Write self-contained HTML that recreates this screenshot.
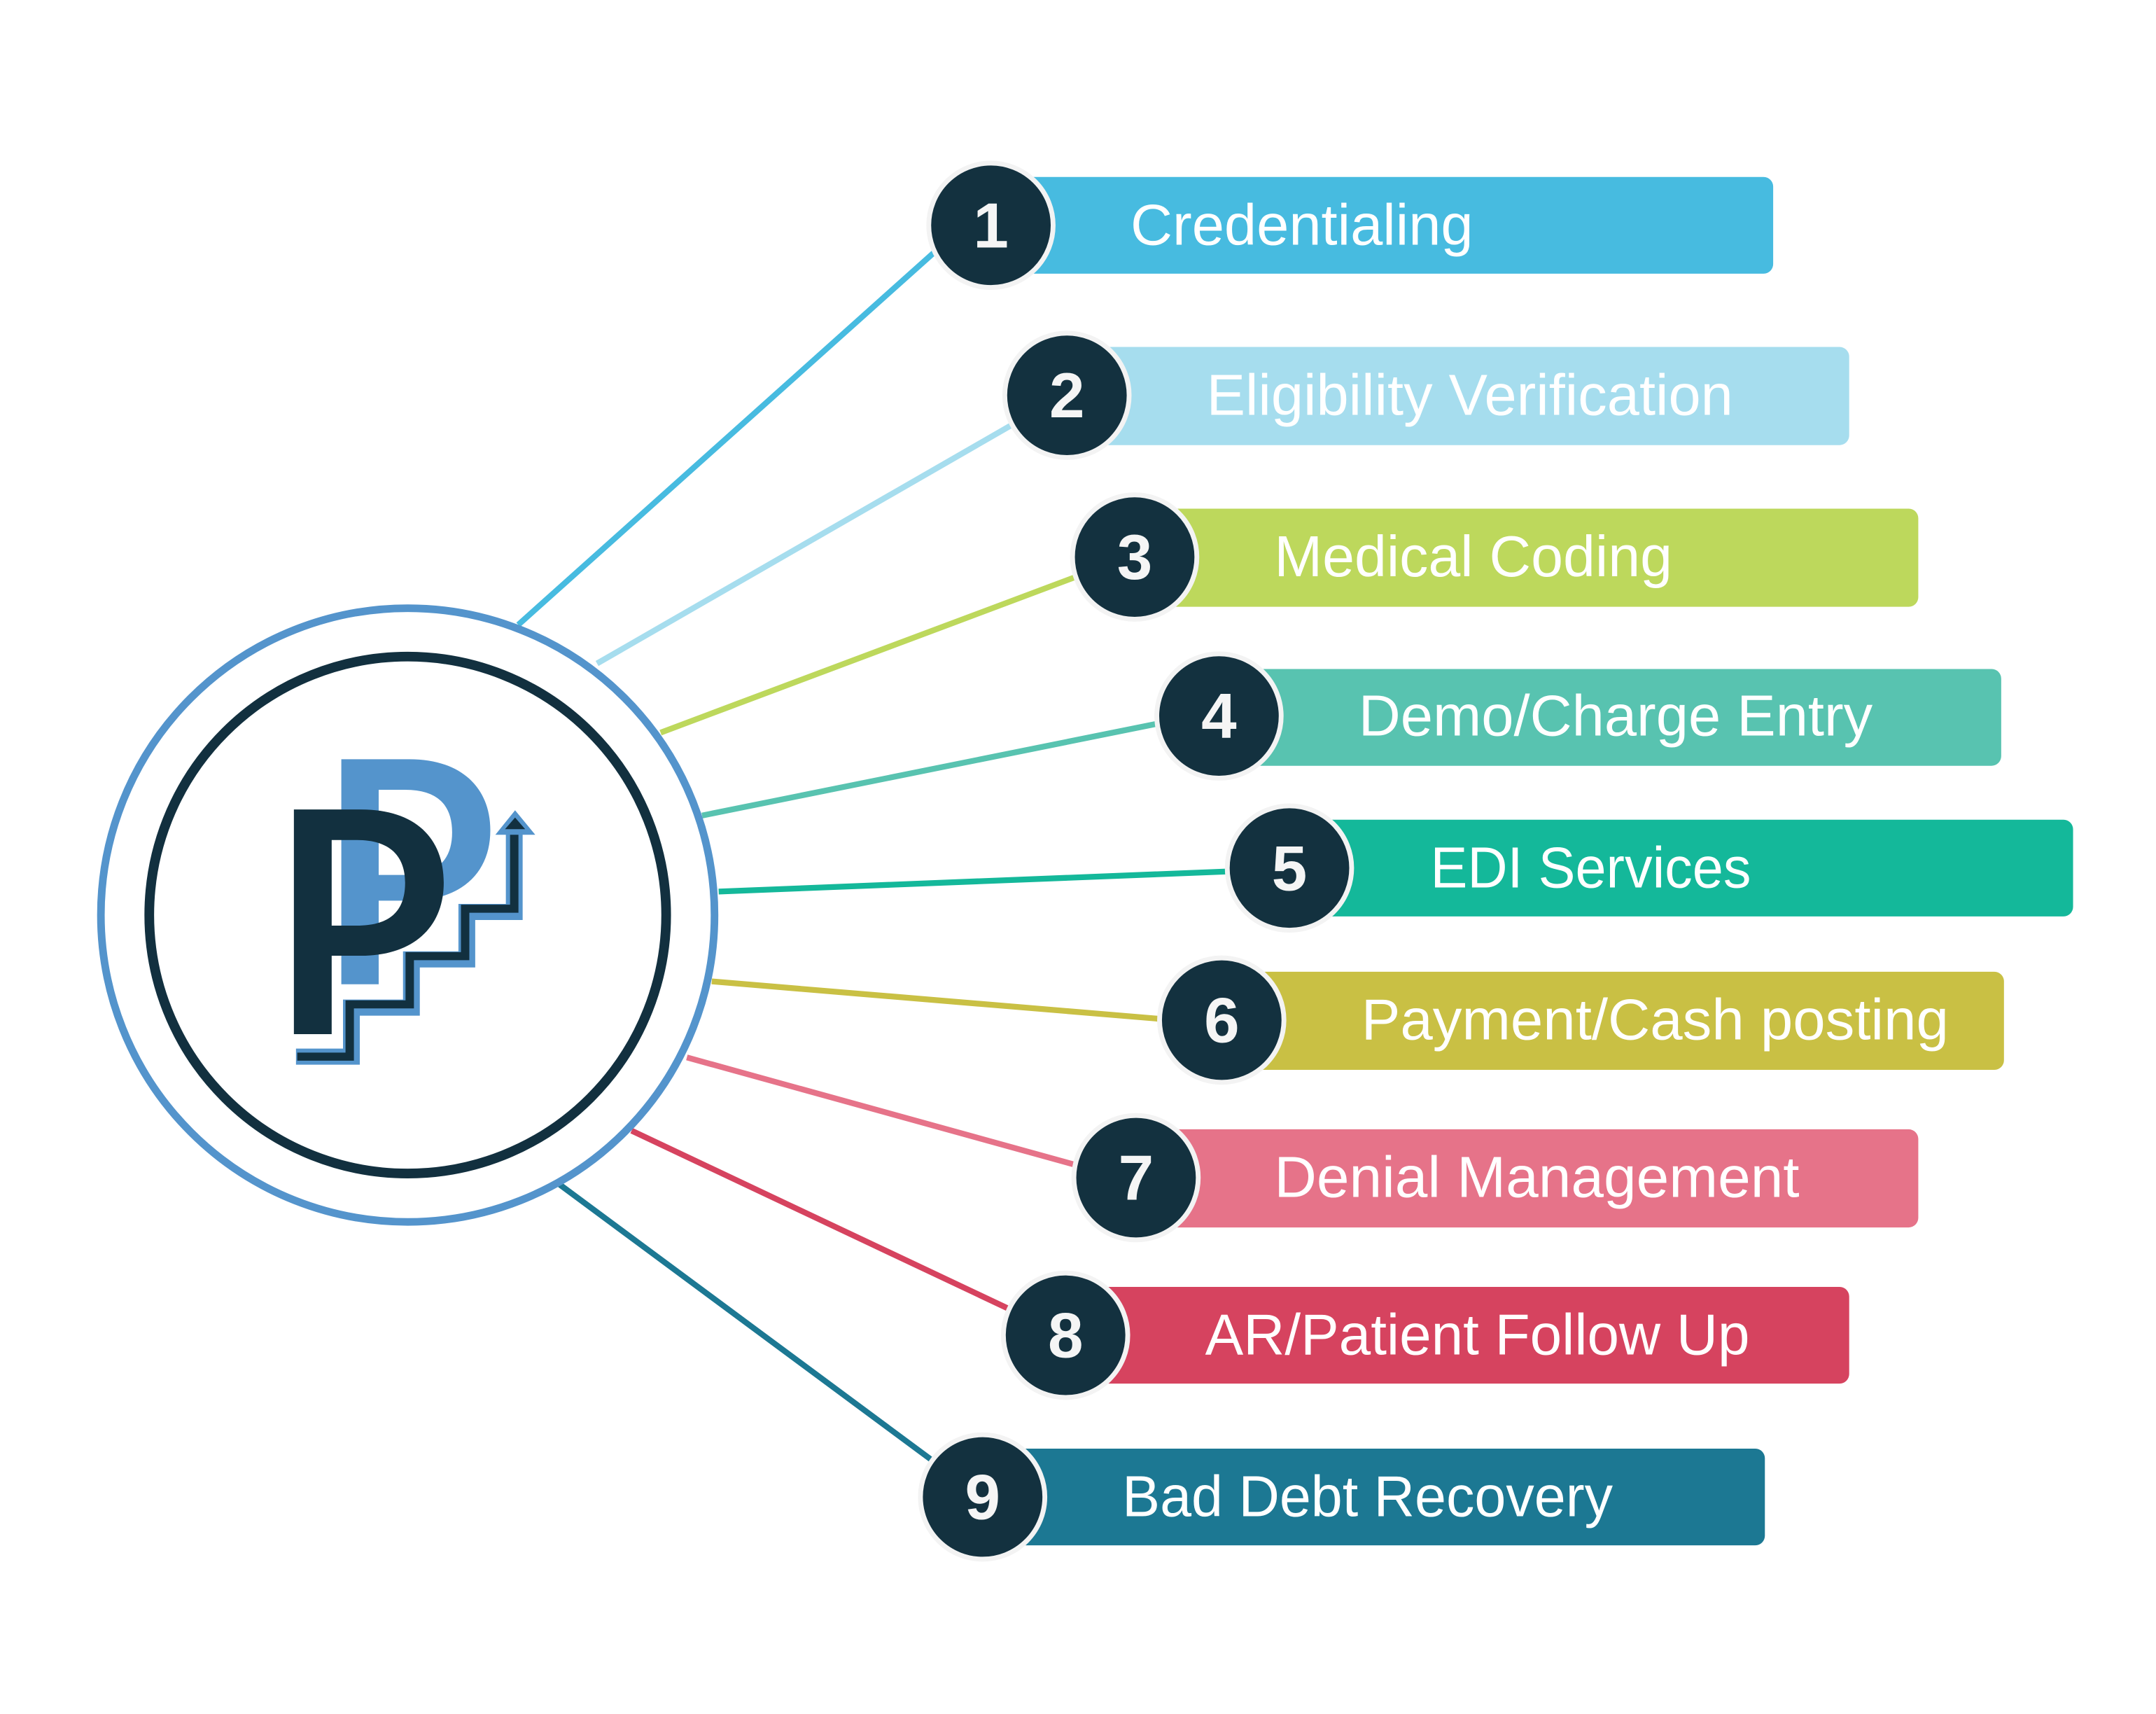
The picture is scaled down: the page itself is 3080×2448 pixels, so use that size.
<!DOCTYPE html>
<html><head><meta charset="utf-8"><style>
html,body{margin:0;padding:0;background:#fff;}
svg{display:block;}
text{font-family:"Liberation Sans",sans-serif;}
</style></head><body>
<svg width="3080" height="2448" viewBox="0 0 1560 1240" preserveAspectRatio="none" xmlns="http://www.w3.org/2000/svg">
<rect width="1560" height="1240" fill="#fff"/>
<g stroke-width="4.2" fill="none">
<line x1="375" y1="452" x2="690" y2="170" stroke="#47bbe0"/>
<line x1="432" y1="480" x2="745" y2="300" stroke="#a6ddee"/>
<line x1="478" y1="530" x2="790" y2="413" stroke="#bdd85c"/>
<line x1="508" y1="590" x2="850" y2="521" stroke="#58c3b0"/>
<line x1="520" y1="645" x2="900" y2="630" stroke="#14b89a"/>
<line x1="515" y1="710" x2="850" y2="738" stroke="#c9c044"/>
<line x1="497" y1="765" x2="790" y2="846" stroke="#e67389"/>
<line x1="457" y1="818" x2="745" y2="954" stroke="#d6435f"/>
<line x1="405" y1="857" x2="690" y2="1068" stroke="#1c7893"/>
</g>
<circle cx="295" cy="662" r="222" fill="#fff" stroke="#5494cc" stroke-width="5.5"/>
<circle cx="295" cy="662" r="187" fill="#fff" stroke="#12303f" stroke-width="7"/>
<g transform="translate(60.8,430.6) scale(0.3037,0.2908)">
<path fill="#5494cc" fill-rule="evenodd" d="M613 408 H775 C900 408 968 480 968 585 C968 690 900 760 775 760 H702 V968 H613 Z M702 484 H765 C840 484 877 520 877 590 C877 660 840 696 765 696 H702 Z"/>
<path fill="#12303f" fill-rule="evenodd" d="M500 533 H660 C790 533 857 605 857 715 C857 830 780 897 660 897 H590 V1092 H500 Z M590 609 H650 C730 609 765 650 765 715 C765 785 730 822 650 822 H590 Z"/>
<polyline points="505,1148 637,1148 637,1026 780,1026 780,906 912,906 912,788 1025,788 1025,575" fill="none" stroke="#5494cc" stroke-width="40" stroke-linejoin="miter"/>
<polyline points="508,1148 633,1148 633,1018 776,1018 776,898 908,898 908,780 1025,780 1025,575" fill="none" stroke="#12303f" stroke-width="20" stroke-linejoin="miter"/>
<polygon points="1027,535 980,596 1075,596" fill="#5494cc"/>
<polygon points="1027,553 1003,582 1051,582" fill="#12303f"/>
</g>
<g>
<rect x="735" y="128" width="548" height="70" rx="7" fill="#47bbe0"/>
<rect x="790" y="251" width="548" height="71" rx="7" fill="#a6ddee"/>
<rect x="840" y="368" width="548" height="71" rx="7" fill="#bdd85c"/>
<rect x="900" y="484" width="548" height="70" rx="7" fill="#58c3b0"/>
<rect x="950" y="593" width="550" height="70" rx="7" fill="#14b89a"/>
<rect x="900" y="703" width="550" height="71" rx="7" fill="#c9c044"/>
<rect x="840" y="817" width="548" height="71" rx="7" fill="#e67389"/>
<rect x="790" y="931" width="548" height="70" rx="7" fill="#d6435f"/>
<rect x="730" y="1048" width="547" height="70" rx="7" fill="#1c7893"/>
</g>
<g fill="#13313f" stroke="#f3f3f3" stroke-width="3.5">
<circle cx="717" cy="163" r="45"/>
<circle cx="772" cy="286" r="45"/>
<circle cx="821" cy="403" r="45"/>
<circle cx="882" cy="518" r="45"/>
<circle cx="933" cy="628" r="45"/>
<circle cx="884" cy="738" r="45"/>
<circle cx="822" cy="852" r="45"/>
<circle cx="771" cy="966" r="45"/>
<circle cx="711" cy="1083" r="45"/>
</g>
<g fill="#f5f5f5" font-weight="bold" font-size="46" text-anchor="middle">
<text x="717" y="179">1</text>
<text x="772" y="302">2</text>
<text x="821" y="419">3</text>
<text x="882" y="534">4</text>
<text x="933" y="644">5</text>
<text x="884" y="754">6</text>
<text x="822" y="868">7</text>
<text x="771" y="982">8</text>
<text x="711" y="1099">9</text>
</g>
<g fill="#fff" font-size="42">
<text x="818" y="177" textLength="248" lengthAdjust="spacingAndGlyphs">Credentialing</text>
<text x="873" y="300" textLength="381" lengthAdjust="spacingAndGlyphs">Eligibility Verification</text>
<text x="922" y="417" textLength="288" lengthAdjust="spacingAndGlyphs">Medical Coding</text>
<text x="983" y="532" textLength="372" lengthAdjust="spacingAndGlyphs">Demo/Charge Entry</text>
<text x="1035" y="642" textLength="232" lengthAdjust="spacingAndGlyphs">EDI Services</text>
<text x="985" y="752" textLength="425" lengthAdjust="spacingAndGlyphs">Payment/Cash posting</text>
<text x="922" y="866" textLength="380" lengthAdjust="spacingAndGlyphs">Denial Management</text>
<text x="872" y="980" textLength="394" lengthAdjust="spacingAndGlyphs">AR/Patient Follow Up</text>
<text x="812" y="1097" textLength="355" lengthAdjust="spacingAndGlyphs">Bad Debt Recovery</text>
</g>
</svg>
</body></html>
